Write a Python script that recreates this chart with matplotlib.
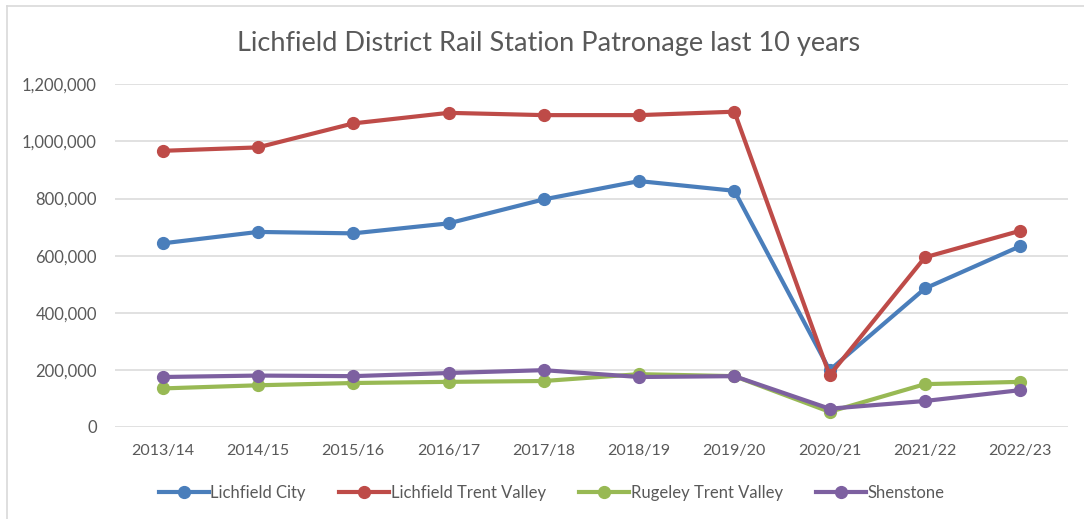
import matplotlib
matplotlib.use('Agg')
import matplotlib.pyplot as plt
from matplotlib.ticker import FuncFormatter
from matplotlib.lines import Line2D

plt.rcParams['font.family'] = ['Lato', 'DejaVu Sans']

years = ['2013/14', '2014/15', '2015/16', '2016/17', '2017/18',
         '2018/19', '2019/20', '2020/21', '2021/22', '2022/23']
lichfield_city = [643000, 683000, 678000, 713000, 797000, 861000, 827000, 199000, 485000, 633000]
lichfield_tv = [967000, 979000, 1063000, 1100000, 1092000, 1092000, 1104000, 181000, 594000, 687000]
rugeley_tv = [135000, 146000, 154000, 158000, 161000, 185000, 178000, 53000, 150000, 158000]
shenstone = [175000, 180000, 178000, 189000, 199000, 175000, 178000, 64000, 91000, 129000]

series = [('Lichfield City', lichfield_city, '#4A7EBB'),
          ('Lichfield Trent Valley', lichfield_tv, '#BE4B48'),
          ('Rugeley Trent Valley', rugeley_tv, '#98B954'),
          ('Shenstone', shenstone, '#7D60A0')]

text_col = '#595959'

fig = plt.figure(figsize=(10.84, 5.19), dpi=100)
ax = fig.add_axes([0.1061, 0.1773, 0.879, 0.6603])

xs = range(len(years))
for name, vals, col in series:
    ax.plot(xs, vals, color=col, lw=3, marker='o', ms=8.5, label=name,
            solid_capstyle='round', solid_joinstyle='round')

ax.set_xlim(-0.5, len(years) - 0.5)
ax.set_ylim(0, 1200000)
ax.set_yticks(range(0, 1200001, 200000))
ax.yaxis.set_major_formatter(FuncFormatter(lambda v, p: '{:,}'.format(int(v))))
ax.set_xticks(list(xs))
ax.set_xticklabels(years)
ax.grid(axis='y', color='#D9D9D9', lw=1.1)
ax.set_axisbelow(True)
for s in ax.spines.values():
    s.set_visible(False)
ax.tick_params(length=0, colors=text_col)
ax.tick_params(axis='x', pad=12, labelsize=11.5)
ax.tick_params(axis='y', pad=13, labelsize=12)

fig.text(0.506, 0.917, 'Lichfield District Rail Station Patronage last 10 years',
         ha='center', va='center', fontsize=19.5, color=text_col)

handles = [Line2D([0], [0], color=c, lw=3, marker='o', ms=8.5) for _, _, c in series]
fig.legend(handles, [n for n, _, _ in series], loc='center', bbox_to_anchor=(0.509, 0.05),
           ncol=4, frameon=False, fontsize=12, labelcolor=text_col,
           handlelength=3.0, handletextpad=0.1, columnspacing=2.0)

# chart border (top and left visible in the source crop)
fig.add_artist(Line2D([7 / 1084, 7 / 1084], [0, 1 - 6 / 519], color='#D9D9D9', lw=1.2))
fig.add_artist(Line2D([7 / 1084, 1], [1 - 6 / 519, 1 - 6 / 519], color='#D9D9D9', lw=1.2))

fig.savefig('out.png', dpi=100)
